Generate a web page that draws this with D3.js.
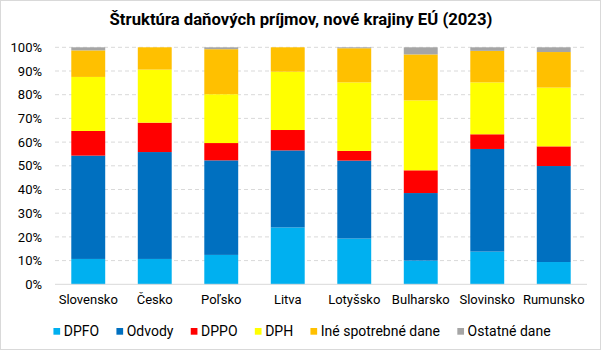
<!DOCTYPE html>
<html><head><meta charset="utf-8">
<script src="https://cdn.jsdelivr.net/npm/d3@7"></script>
<style>body{margin:0;background:#fff}svg{display:block}text{font-family:Roboto,"Noto Sans",sans-serif}</style>
</head><body><svg id="c" width="602" height="352"></svg>
<script>
const categories = ["Slovensko","Česko","Poľsko","Litva","Lotyšsko","Bulharsko","Slovinsko","Rumunsko"];
const seriesNames = ["DPFO","Odvody","DPPO","DPH","Iné spotrebné dane","Ostatné dane"];
const DPFO    = [10.7, 10.7, 12.4, 24.0, 19.3, 10.0, 13.8, 9.4];
const Odvody  = [43.6, 45.1, 39.9, 32.5, 32.9, 28.5, 43.3, 40.5];
const DPPO    = [10.4, 12.4, 7.3, 8.6, 4.1, 9.6, 6.2, 8.3];
const DPH     = [22.8, 22.4, 20.6, 24.6, 28.9, 29.5, 21.9, 24.8];
const Ine     = [11.2, 9.4, 19.0, 10.3, 14.4, 19.4, 13.3, 15.0];
const Ostatne = [1.3, 0.0, 0.8, 0.0, 0.4, 3.0, 1.5, 2.0];
const yTicks = [0,0.1,0.2,0.3,0.4,0.5,0.6,0.7,0.8,0.9,1.0];
const colors = ["#00B0F0","#0070C0","#FF0000","#FFFF00","#FFC000","#A5A5A5"];

const seriesVals = [DPFO,Odvody,DPPO,DPH,Ine,Ostatne];
const rows = categories.map((c,i)=>{
  const r={cat:c}; let tot=0;
  seriesNames.forEach((s,j)=>{tot+=seriesVals[j][i];});
  seriesNames.forEach((s,j)=>{r[s]=seriesVals[j][i]/tot;});
  return r;
});
const stack = d3.stack().keys(seriesNames)(rows);

const svg = d3.select("#c");
svg.append("rect").attr("x",0.5).attr("y",0.5).attr("width",600).attr("height",349)
  .attr("fill","#fff").attr("stroke","#d9d9d9");

const x = d3.scaleBand().domain(categories).range([55,587]).paddingInner(0.49).paddingOuter(0.245);
const y = d3.scaleLinear().domain([0,1]).range([284.3,47.3]);

svg.append("text").attr("x",301).attr("y",25).attr("text-anchor","middle")
  .attr("font-size",16.7).attr("font-weight","bold").attr("fill","#000")
  .text("Štruktúra daňových príjmov, nové krajiny EÚ (2023)");

// gridlines
svg.append("g").selectAll("line").data(yTicks.filter(t=>t>0)).join("line")
  .attr("x1",55).attr("x2",587).attr("y1",d=>y(d)).attr("y2",d=>y(d))
  .attr("stroke","#d9d9d9").attr("stroke-width",1).attr("stroke-dasharray","4,3");

// y axis labels
const yAxis = d3.axisLeft(y).tickValues(yTicks).tickFormat(d3.format(".0%")).tickSize(0).tickPadding(0);
const ya = svg.append("g").attr("transform","translate(42,0)").call(yAxis);
ya.select(".domain").remove();
ya.selectAll("text").attr("font-size",13).attr("fill","#000").attr("font-family","Roboto,sans-serif");

// bars
svg.append("g").selectAll("g").data(stack).join("g").attr("fill",(d,i)=>colors[i])
  .selectAll("rect").data(d=>d).join("rect")
  .attr("x",d=>x(d.data.cat)).attr("width",x.bandwidth())
  .attr("y",d=>y(d[1])).attr("height",d=>Math.max(0,y(d[0])-y(d[1])));

// baseline
svg.append("line").attr("x1",55).attr("x2",587).attr("y1",y(0)).attr("y2",y(0))
  .attr("stroke","#d9d9d9").attr("stroke-width",1);

// x axis labels
const xAxis = d3.axisBottom(x).tickSize(0).tickPadding(0);
const xa = svg.append("g").attr("transform","translate(0,295)").call(xAxis);
xa.select(".domain").remove();
xa.selectAll("text").attr("font-size",13).attr("fill","#000").attr("font-family","Roboto,sans-serif");

// legend
const lg = svg.append("g");
const items = lg.selectAll("g").data(seriesNames).join("g");
items.append("rect").attr("x",0).attr("y",328).attr("width",6.7).attr("height",6.7).attr("fill",(d,i)=>colors[i]);
items.append("text").attr("x",10.3).attr("y",336.3).attr("font-size",14).attr("fill","#000").text(d=>d);
let cx = 0;
const offs = [];
items.each(function(){ const w=this.querySelector("text").getComputedTextLength(); offs.push(cx); cx += 10.3 + w + 17.3; });
const total = cx - 17.3;
const start = 302 - total/2;
items.attr("transform",(d,i)=>`translate(${start+offs[i]},0)`);
</script></body></html>
